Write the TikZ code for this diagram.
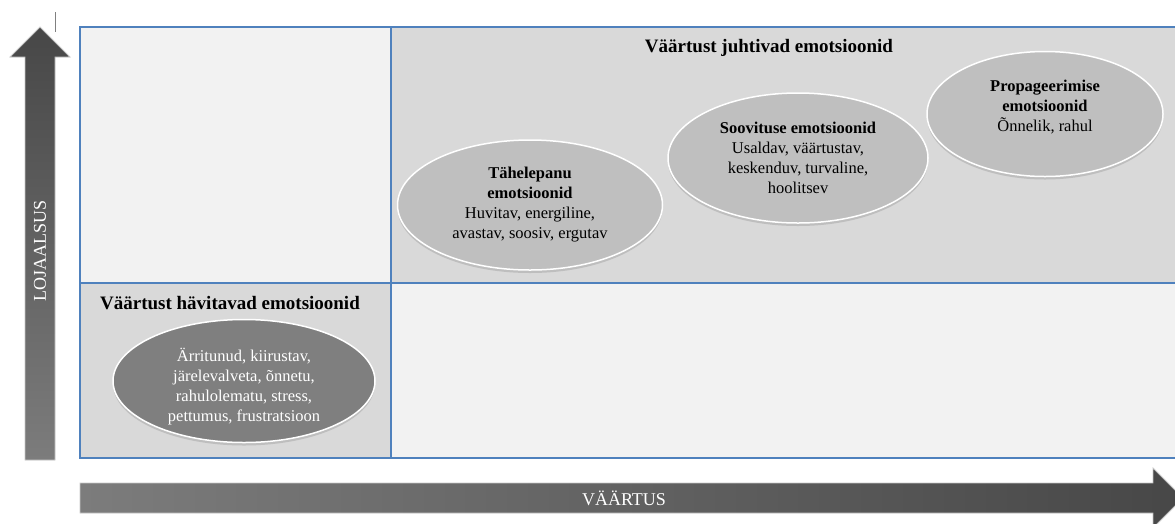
\documentclass[tikz,border=0pt]{standalone}
\usepackage{fontspec}
\setmainfont{Liberation Serif}
\usetikzlibrary{shapes.geometric,shadows}
\definecolor{GridBlue}{HTML}{4F81BD}
\definecolor{CellLight}{HTML}{F2F2F2}
\definecolor{CellDark}{HTML}{D9D9D9}
\definecolor{EllLight}{HTML}{BFBFBF}
\definecolor{EllDark}{HTML}{7F7F7F}
\definecolor{ArrDark}{HTML}{474747}
\definecolor{ArrLight}{HTML}{7C7C7C}
\newcommand{\bodyfont}{\fontsize{16.5}{20}\selectfont}
\newcommand{\titlefont}{\fontsize{19}{22}\selectfont\bfseries}

\begin{document}
\begin{tikzpicture}[x=1pt,y=-1pt,
    emo/.style={ellipse,draw=white,line width=1.5pt,fill=EllLight,inner sep=0pt,
      drop shadow={shadow xshift=0pt,shadow yshift=-3pt,opacity=0.3}},
    emotext/.style={align=center,font=\bodyfont,inner sep=0pt},
    axislabel/.style={text=white,font=\fontsize{18}{20}\selectfont}]
    \useasboundingbox (0,0) rectangle (1175,523);
    \clip (0,0) rectangle (1175,523);

    % quadrants
    \fill[CellLight] (80,27) rectangle (391,283);
    \fill[CellDark] (391,27) rectangle (1185,283);
    \fill[CellDark] (80,283) rectangle (391,458);
    \fill[CellLight] (391,283) rectangle (1185,458);
    \draw[GridBlue,line width=1.5pt] (1185,27) -- (80,27) -- (80,458) -- (1185,458);
    \draw[GridBlue,line width=1.5pt] (80,283) -- (1185,283);
    \draw[GridBlue,line width=1.5pt] (391,27) -- (391,458);

    % axes
    \shadedraw[draw=gray!45,line width=0.8pt,top color=ArrDark,bottom color=ArrLight]
      (25,460) -- (25,57) -- (10,57) -- (40,27) -- (70,57) -- (55,57) -- (55,460) -- cycle;
    \shadedraw[draw=gray!45,line width=0.8pt,left color=ArrLight,right color=ArrDark]
      (80,483) -- (1153,483) -- (1153,468) -- (1183,498) -- (1153,528) -- (1153,513) -- (80,513) -- cycle;
    \node[axislabel,rotate=90] (loj) at (40,251) {LOJAALSUS};
    \node[axislabel] (vaar) at (624,498) {VÄÄRTUS};
    \draw[gray,line width=1pt] (55,12) -- (55,32);

    % titles
    \node[font=\titlefont] (juhtTitle) at (769,48) {Väärtust juhtivad emotsioonid};
    \node[font=\titlefont] (havTitle) at (230,303) {Väärtust hävitavad emotsioonid};

    % emotion ellipses
    \node[emo,minimum width=265pt,minimum height=130pt] (tahel) at (530,205) {};
    \node[emo,minimum width=260pt,minimum height=130pt] (soov) at (798,158) {};
    \node[emo,minimum width=236pt,minimum height=125pt] (prop) at (1045,114) {};
    \node[emo,fill=EllDark,minimum width=262pt,minimum height=123pt] (havit) at (244,381) {};

    \node[emotext] (tahelText) at (tahel.center)
      {\textbf{Tähelepanu}\\\textbf{emotsioonid}\\Huvitav, energiline,\\avastav, soosiv, ergutav};
    \node[emotext] (soovText) at (soov.center)
      {\textbf{Soovituse emotsioonid}\\Usaldav, väärtustav,\\keskenduv, turvaline,\\hoolitsev};
    \node[emotext] (propText) at ([yshift=7pt]prop.center)
      {\textbf{Propageerimise}\\\textbf{emotsioonid}\\Õnnelik, rahul};
    \node[emotext,text=white] (havitText) at ([yshift=-6pt]havit.center)
      {Ärritunud, kiirustav,\\järelevalveta, õnnetu,\\rahulolematu, stress,\\pettumus, frustratsioon};
\end{tikzpicture}
\end{document}
